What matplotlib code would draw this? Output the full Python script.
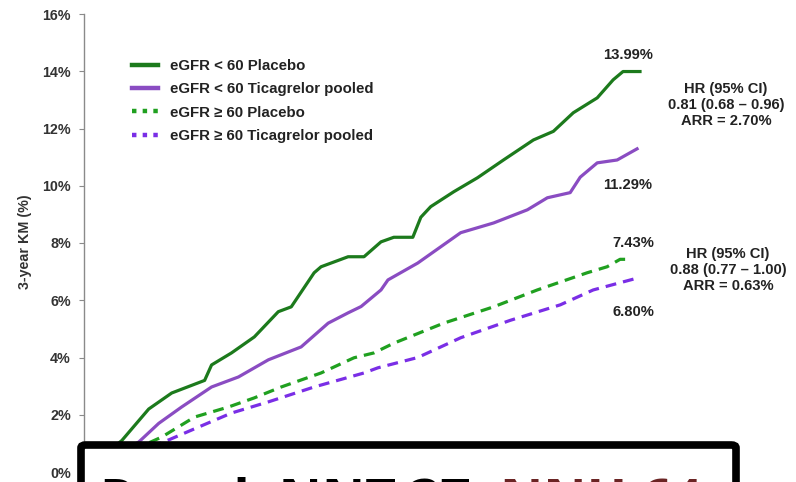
import matplotlib
matplotlib.use("Agg")
import matplotlib.pyplot as plt
from matplotlib.patches import FancyBboxPatch
from matplotlib.lines import Line2D

# ---- data (months since randomisation, 3-year KM %) ----
gs_months = [0, 2.45, 4.19, 5.68, 7.81, 8.26, 9.55, 11.03, 12.58, 13.42, 14.90, 15.35, 17.10, 18.13,
             19.23, 20.06, 21.29, 21.81, 22.45, 23.94, 25.48, 27.16, 29.10, 30.39, 31.68, 33.23,
             34.26, 34.90, 36.0]
gs_vals = [0, 1.1, 2.2, 2.76, 3.2, 3.74, 4.16, 4.72, 5.6, 5.77, 6.96, 7.17, 7.52, 7.52,
           8.04, 8.2, 8.2, 8.9, 9.27, 9.79, 10.28, 10.9, 11.6, 11.9, 12.55, 13.07,
           13.7, 13.99, 13.99]

ps_months = [0, 3.55, 4.84, 6.32, 8.26, 10.0, 11.94, 14.06, 15.81, 17.10, 17.94, 19.23, 19.68,
             21.61, 24.39, 26.52, 28.71, 30.0, 31.48, 32.13, 33.23, 34.52, 35.81]
ps_vals = [0, 1.05, 1.7, 2.27, 2.97, 3.32, 3.92, 4.37, 5.2, 5.56, 5.78, 6.36, 6.71,
           7.3, 8.36, 8.7, 9.16, 9.58, 9.76, 10.3, 10.8, 10.9, 11.29]

gd_months = [0, 5.03, 7.16, 9.35, 11.03, 12.77, 15.35, 17.48, 18.77, 20.06, 23.29, 26.52, 29.35,
             32.58, 33.87, 34.71, 35.35]
gd_vals = [0, 1.22, 1.92, 2.27, 2.59, 2.97, 3.46, 3.99, 4.16, 4.5, 5.2, 5.77, 6.36,
           6.96, 7.17, 7.43, 7.43]

pd_months = [0, 5.48, 7.42, 9.55, 11.94, 14.90, 18.13, 19.03, 21.61, 24.39, 27.61, 30.84, 32.97, 36.0]
pd_vals = [0, 1.12, 1.57, 2.06, 2.45, 2.97, 3.46, 3.64, 4.0, 4.69, 5.3, 5.84, 6.36, 6.80]

series_labels = ["eGFR < 60 Placebo", "eGFR < 60 Ticagrelor pooled",
                 "eGFR \u2265 60 Placebo", "eGFR \u2265 60 Ticagrelor pooled"]
end_labels = ["13.99%", "11.29%", "7.43%", "6.80%"]
hr_texts = ["HR (95% CI)\n0.81 (0.68 \u2013 0.96)\nARR = 2.70%",
            "HR (95% CI)\n0.88 (0.77 \u2013 1.00)\nARR = 0.63%"]
yticks = [0, 2, 4, 6, 8, 10, 12, 14, 16]
ytick_labels = [f"{v}%" for v in yticks]
box_black = "Renal: NNT 37, "
box_red = "NNH 64"

W, H = 796, 482
fig = plt.figure(figsize=(W / 100, H / 100), dpi=100)
fig.patch.set_facecolor("white")

def fx(px):
    return px / W

def fy(py):
    return 1 - py / H

FONT = "Liberation Sans"
ax_left, ax_right = 84, 796
ax_top, ax_bot = 14, 472
ax = fig.add_axes([fx(ax_left), fy(ax_bot), fx(ax_right - ax_left), (ax_bot - ax_top) / H])
month_per_px = 36 / (640 - 84)
ax.set_xlim(0, (ax_right - ax_left) * month_per_px)
ax.set_ylim(0, 16)

green = "#1c7a1c"
purple = "#8a4cc2"
green_d = "#20a020"
purple_d = "#7a2ee6"

ax.plot(gs_months, gs_vals, color=green, lw=2.3, solid_joinstyle="round")
ax.plot(ps_months, ps_vals, color=purple, lw=2.3, solid_joinstyle="round")
ax.plot(gd_months, gd_vals, color=green_d, lw=2.3, dashes=(3.4, 2.2))
ax.plot(pd_months, pd_vals, color=purple_d, lw=2.3, dashes=(3.4, 2.2))

for s in ["top", "right", "bottom"]:
    ax.spines[s].set_visible(False)
ax.spines["left"].set_color("#8a8a8a")
ax.spines["left"].set_linewidth(1.0)
ax.set_xticks([])
ax.set_yticks(yticks)
ax.set_yticklabels(ytick_labels, fontsize=10.3, fontweight="bold", color="#333333", family=FONT)
ax.tick_params(axis="y", length=3.5, color="#8a8a8a", pad=6)
ax.set_ylabel("3-year KM (%)", fontsize=10.3, fontweight="bold", color="#333333", family=FONT)
ax.yaxis.set_label_coords(-(ax_left - 32) / (ax_right - ax_left), (472 - 242) / (472 - 14))

handles = [Line2D([], [], color=green, lw=3.2),
           Line2D([], [], color=purple, lw=3.2),
           Line2D([], [], color=green_d, lw=3.2, dashes=(1.0, 1.4)),
           Line2D([], [], color=purple_d, lw=3.2, dashes=(1.0, 1.4))]
leg = fig.legend(handles, series_labels, loc="upper left",
                 bbox_to_anchor=(fx(120), fy(47)), frameon=False,
                 prop={"family": FONT, "weight": "bold", "size": 10.8},
                 handlelength=1.7, handletextpad=0.8, labelspacing=0.62, borderpad=0.3)
for t in leg.get_texts():
    t.set_color("#222222")

tprops = dict(fontsize=10.6, fontweight="bold", color="#222222", family=FONT)
fig.text(fx(628), fy(55), end_labels[0], ha="center", va="center", **tprops)
fig.text(fx(628), fy(185), end_labels[1], ha="center", va="center", **tprops)
fig.text(fx(633), fy(243), end_labels[2], ha="center", va="center", **tprops)
fig.text(fx(633), fy(312), end_labels[3], ha="center", va="center", **tprops)
fig.text(fx(726), fy(105), hr_texts[0], ha="center", va="center", linespacing=1.2, **tprops)
fig.text(fx(728), fy(270), hr_texts[1], ha="center", va="center", linespacing=1.2, **tprops)

# ---- bottom box ----
box = FancyBboxPatch((fx(81), fy(530)), fx(736 - 81), (530 - 445) / H,
                     boxstyle="round,pad=0,rounding_size=0.006",
                     transform=fig.transFigure, facecolor="white", edgecolor="black",
                     linewidth=5.5, zorder=10)
fig.add_artist(box)

fs = 30
bfont = "Open Sans"
t1 = fig.text(0, 0, box_black, ha="left", va="baseline", fontsize=fs,
              fontweight="bold", color="black", family=bfont, zorder=11)
t2 = fig.text(0, 0, box_red, ha="left", va="baseline", fontsize=fs,
              fontweight="bold", color="#6b2424", family=bfont, zorder=11)
fig.canvas.draw()
r = fig.canvas.get_renderer()
w_total = t1.get_window_extent(r).width + t2.get_window_extent(r).width
fs2 = fs * (703 - 100) / w_total
t1.set_fontsize(fs2)
t2.set_fontsize(fs2)
cap_px = 0.714 * fs2 * 100 / 72
base = 480 + cap_px
t1.set_position((fx(100), fy(base)))
fig.canvas.draw()
bb = t1.get_window_extent(r)
t2.set_position((bb.x1 / W, fy(base)))

fig.savefig("out.png", dpi=100, facecolor="white")
